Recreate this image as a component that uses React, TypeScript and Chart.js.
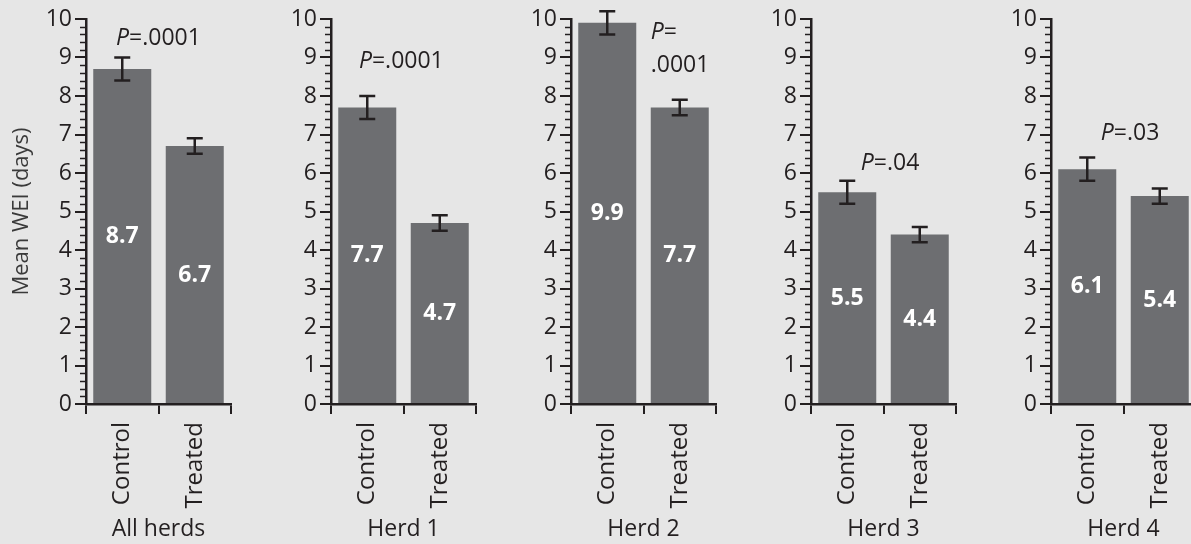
import React, { useEffect, useRef } from 'react';
import { Chart, registerables } from 'chart.js';

Chart.register(...registerables);

// ---------- data ----------
const groups = ['All herds', 'Herd 1', 'Herd 2', 'Herd 3', 'Herd 4'];
const categories = ['Control', 'Treated'];
const controlMeans = [8.7, 7.7, 9.9, 5.5, 6.1];
const treatedMeans = [6.7, 4.7, 7.7, 4.4, 5.4];
const controlErrors = [0.3, 0.3, 0.3, 0.3, 0.3];
const treatedErrors = [0.2, 0.2, 0.2, 0.2, 0.2];
const pValues = ['.0001', '.0001', '.0001', '.04', '.03'];
// annotation anchor (category index units / value units)
const pLabelIndex = [0.5, 0.47, 0.6, 0.59, 0.59];
const pLabelValue = [9.5, 8.9, 9.66, 6.26, 7.04];
const pLabelSplit = [false, false, true, false, false];
const yMin = 0;
const yMax = 10;
const yStep = 1;
const yMinorStep = 0.2;
const yTitle = 'Mean WEI (days)';

// ---------- style ----------
const FONT = '"Open Sans", "Noto Sans", sans-serif';
const INK = '#231f20';
const BAR = '#6d6e71';
const BG = '#e6e6e6';
const AXIS_X = [86, 331, 571, 811, 1051];
const Y_AXIS_W = 86;
const CANVAS_W = 236;
const CANVAS_H = 544;

function Panel({ index }: { index: number }) {
  const ref = useRef<HTMLCanvasElement | null>(null);

  useEffect(() => {
    const canvas = ref.current;
    if (!canvas) return;
    const means = [controlMeans[index], treatedMeans[index]];
    const errs = [controlErrors[index], treatedErrors[index]];

    const overlay = {
      id: 'overlay' + index,
      afterDatasetsDraw(chart: any) {
        const ctx = chart.ctx as CanvasRenderingContext2D;
        const ys = chart.scales.y;
        const xs = chart.scales.x;
        const meta = chart.getDatasetMeta(0);
        ctx.save();
        // minor ticks
        ctx.strokeStyle = INK;
        ctx.lineWidth = 1.5;
        const ax = ys.right;
        const nMinor = Math.round((yMax - yMin) / yMinorStep);
        for (let k = 0; k <= nMinor; k++) {
          const v = yMin + k * yMinorStep;
          if (Math.abs(v - Math.round(v)) < 1e-6) continue;
          const py = Math.round(ys.getPixelForValue(v)) + 0.5;
          ctx.beginPath();
          ctx.moveTo(ax - 6, py);
          ctx.lineTo(ax, py);
          ctx.stroke();
        }
        // error bars
        ctx.lineWidth = 2.5;
        meta.data.forEach((bar: any, i: number) => {
          const x = bar.x;
          const top = ys.getPixelForValue(means[i] + errs[i]);
          const bot = ys.getPixelForValue(means[i] - errs[i]);
          ctx.beginPath();
          ctx.moveTo(x, top);
          ctx.lineTo(x, bot);
          ctx.moveTo(x - 8, top);
          ctx.lineTo(x + 8, top);
          ctx.moveTo(x - 8, bot);
          ctx.lineTo(x + 8, bot);
          ctx.stroke();
        });
        // value labels
        ctx.fillStyle = '#ffffff';
        ctx.font = `bold 23px ${FONT}`;
        ctx.textAlign = 'center';
        ctx.textBaseline = 'middle';
        meta.data.forEach((bar: any, i: number) => {
          ctx.fillText(means[i].toFixed(1), bar.x, ys.getPixelForValue(means[i] / 2));
        });
        // P label
        ctx.fillStyle = INK;
        ctx.textAlign = 'left';
        const cx = xs.getPixelForValue(pLabelIndex[index]);
        const cy = ys.getPixelForValue(pLabelValue[index]);
        const italic = `italic 23px ${FONT}`;
        const normal = `23px ${FONT}`;
        ctx.font = italic;
        const wP = ctx.measureText('P').width;
        ctx.font = normal;
        const wEq = ctx.measureText('=').width;
        const wVal = ctx.measureText(pValues[index]).width;
        if (pLabelSplit[index]) {
          ctx.font = italic;
          ctx.fillText('P', cx, cy);
          ctx.font = normal;
          ctx.fillText('=', cx + wP, cy);
          ctx.fillText(pValues[index], cx, cy + 33);
        } else {
          const total = wP + wEq + wVal;
          const sx = cx - total / 2;
          ctx.font = italic;
          ctx.fillText('P', sx, cy);
          ctx.font = normal;
          ctx.fillText('=', sx + wP, cy);
          ctx.fillText(pValues[index], sx + wP + wEq, cy);
        }
        ctx.restore();
      },
    };

    const chart = new Chart(canvas, {
      type: 'bar',
      data: {
        labels: categories,
        datasets: [
          {
            data: means,
            backgroundColor: BAR,
            borderWidth: 0,
            barPercentage: 0.8,
            categoryPercentage: 1,
          },
        ],
      },
      options: {
        animation: false,
        responsive: false,
        layout: { padding: { top: 19, right: 5, left: 0, bottom: 0 } },
        plugins: { legend: { display: false }, tooltip: { enabled: false } },
        scales: {
          x: {
            ticks: {
              maxRotation: 90,
              minRotation: 90,
              color: INK,
              font: { family: FONT, size: 24 },
              padding: 8,
            },
            grid: {
              drawOnChartArea: false,
              drawTicks: true,
              tickLength: 10,
              color: INK,
              lineWidth: 2,
              offset: true,
            },
            border: { display: true, color: INK, width: 2.5 },
            title: {
              display: true,
              text: groups[index],
              color: INK,
              font: { family: FONT, size: 23 },
              padding: { top: 0, bottom: 1 },
            },
            afterFit: (s: any) => {
              s.height = 140;
            },
          },
          y: {
            min: yMin,
            max: yMax,
            ticks: {
              stepSize: yStep,
              color: INK,
              font: { family: FONT, size: 23 },
              padding: 3,
            },
            grid: {
              drawOnChartArea: false,
              drawTicks: true,
              tickLength: 11,
              color: INK,
              lineWidth: 2,
            },
            border: { display: true, color: INK, width: 2.5 },
            title: {
              display: index === 0,
              text: yTitle,
              color: '#3a3a3a',
              font: { family: FONT, size: 22 },
              padding: { top: 9, bottom: 0 },
            },
            afterFit: (s: any) => {
              s.width = Y_AXIS_W;
            },
          },
        },
      },
      plugins: [overlay],
    } as any);
    return () => chart.destroy();
  }, [index]);

  return (
    <div
      style={{
        position: 'absolute',
        left: AXIS_X[index] - Y_AXIS_W,
        top: 0,
        width: CANVAS_W,
        height: CANVAS_H,
      }}
    >
      <canvas
        ref={ref}
        width={CANVAS_W}
        height={CANVAS_H}
        style={{ width: CANVAS_W, height: CANVAS_H, display: 'block' }}
      />
    </div>
  );
}

export default function App() {
  return (
    <div
      style={{
        position: 'fixed',
        left: 0,
        top: 0,
        width: 1191,
        height: 544,
        overflow: 'hidden',
        background: BG,
      }}
    >
      {groups.map((_, i) => (
        <Panel key={i} index={i} />
      ))}
    </div>
  );
}
